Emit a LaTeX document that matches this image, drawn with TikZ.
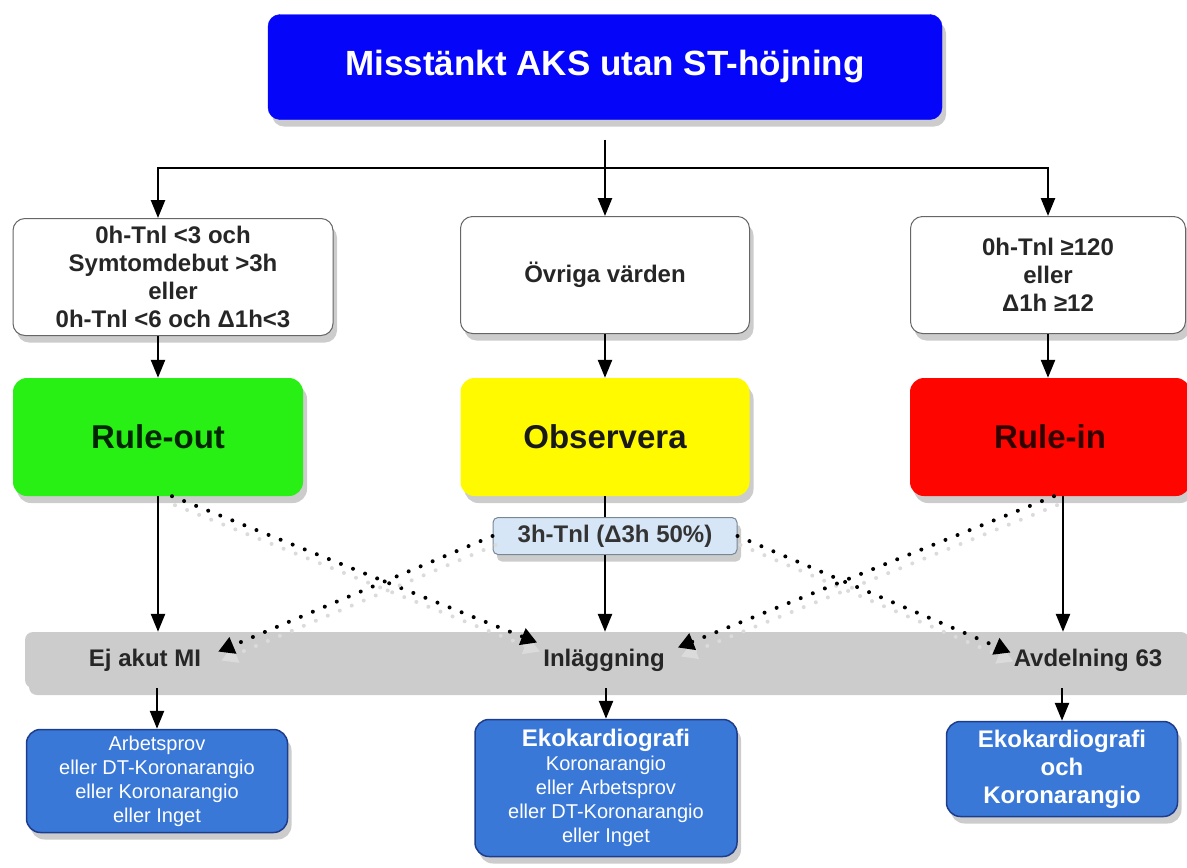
\documentclass[tikz,border=0pt]{standalone}
\usepackage{fontspec}
\setmainfont{Liberation Sans}
\usetikzlibrary{arrows.meta,shadows,calc}

\definecolor{headblue}{RGB}{5,5,250}
\definecolor{outgreen}{RGB}{40,240,20}
\definecolor{obsyellow}{RGB}{255,250,0}
\definecolor{inred}{RGB}{255,5,0}
\definecolor{bandgray}{RGB}{204,204,204}
\definecolor{workblue}{RGB}{58,120,216}
\definecolor{workedge}{RGB}{30,60,140}
\definecolor{tnlblue}{RGB}{214,230,246}
\definecolor{tnledge}{RGB}{120,135,150}

\begin{document}
\begin{tikzpicture}[x=1pt, y=-1pt,
    shade/.style={drop shadow={shadow xshift=4pt, shadow yshift=-7pt, fill=black!40}},
    head/.style={shade, draw=headblue, fill=headblue, rounded corners=12pt, minimum width=674pt, minimum height=105pt, text=white, font=\fontsize{35}{40}\selectfont\bfseries},
    cond/.style={shade, draw=black!60, line width=1pt, fill=white, rounded corners=12pt, minimum height=117pt, align=center, font=\fontsize{24}{28}\selectfont\bfseries, text=black!85},
    verdict/.style={shade, rounded corners=14pt, minimum height=118pt, font=\fontsize{33}{38}\selectfont\bfseries},
    band/.style={shade, fill=bandgray, rounded corners=8pt, minimum width=1164pt, minimum height=56pt},
    lab/.style={font=\fontsize{24}{28}\selectfont\bfseries, text=black!85, inner sep=3pt},
    tnl/.style={shade, draw=tnledge, line width=1pt, fill=tnlblue, rounded corners=5pt, minimum width=244pt, minimum height=37pt, font=\fontsize{24}{28}\selectfont\bfseries, text=black!80},
    work/.style={shade, draw=workedge, line width=1.5pt, fill=workblue, rounded corners=14pt, align=center, text=white, font=\fontsize{20}{24}\selectfont},
    arr/.style={-{Triangle[length=18pt, width=14pt]}, line width=2.5pt},
    dots/.style={preaction={draw=black!14, -{Triangle[length=16pt, width=17pt]}, line width=4pt, line cap=round, dash pattern=on 0pt off 13pt, transform canvas={shift={(3pt,-9pt)}}},
        -{Triangle[length=16pt, width=17pt]}, line width=4pt, line cap=round, dash pattern=on 0pt off 13pt},
]
    \useasboundingbox (0,0) rectangle (1187,868);

    \node[head] (title) at (605,67) {Misstänkt AKS utan ST-höjning};
    \node[cond, minimum width=320pt] (cl) at (173,277) {0h-Tnl <3 och\\Symtomdebut >3h\\eller\\0h-Tnl <6 och Δ1h<3};
    \node[cond, minimum width=289pt] (cm) at (605,275) {Övriga värden};
    \node[cond, minimum width=275pt] (cr) at (1048,275) {0h-Tnl ≥120\\eller\\Δ1h ≥12};

    \node[verdict, fill=outgreen, minimum width=290pt, text=black!85!green] (rout) at (158,437) {Rule-out};
    \node[verdict, fill=obsyellow, minimum width=289pt, text=black!90] (obs) at (605,437) {Observera};
    \node[verdict, fill=inred, minimum width=280pt, text=black!80!red] (rin) at (1050,437) {Rule-in};

    \node[tnl] (tnl) at (615,536) {3h-Tnl (Δ3h 50\%)};

    \node[band] (band) at (607,660) {};
    \node[lab] (ejmi) at (145,660) {Ej akut MI};
    \node[lab] (inl) at (604,660) {Inläggning};
    \node[lab] (avd) at (1088,660) {Avdelning 63};

    \node[work, minimum width=261pt, minimum height=103pt] (wl) at (157,781) {Arbetsprov\\eller DT-Koronarangio\\eller Koronarangio\\eller Inget};
    \node[work, minimum width=262pt, minimum height=137pt] (wm) at (606,788) {{\fontsize{24}{24}\selectfont\bfseries Ekokardiografi}\\Koronarangio\\eller Arbetsprov\\eller DT-Koronarangio\\eller Inget};
    \node[work, minimum width=231pt, minimum height=95pt, font=\fontsize{24}{28}\selectfont\bfseries] (wr) at (1062,769) {Ekokardiografi\\och\\Koronarangio};

    % split below the title
    \coordinate (split) at (605,168);
    \draw[line width=2.5pt] ([yshift=-20pt]title.south) -- (split);
    \draw[arr] (split) -| (rout |- cl.north);
    \draw[arr] (split) -- (cm.north);
    \draw[arr] (split) -| (cr.north);

    \draw[arr] (rout |- cl.south) -- (rout.north);
    \draw[arr] (cm.south) -- (obs.north);
    \draw[arr] (cr.south) -- (cr.south |- rin.north);

    \draw[arr] (rout.south) -- (rout.south |- band.north);
    \draw[line width=2.5pt] (obs.south) -- (obs.south |- tnl.north);
    \draw[arr] (obs.south |- tnl.south) -- (obs.south |- band.north);
    \draw[arr] ([xshift=13pt]rin.south) -- ([xshift=13pt]rin.south |- band.north);

    % dotted cross-overs
    \draw[dots] ([xshift=14pt]rout.south) -- ([xshift=-3pt,yshift=3pt]inl.north west);
    \draw[dots] (tnl.west) -- ([xshift=14pt,yshift=-6pt]ejmi.north east);
    \draw[dots] (tnl.east) -- ([yshift=-7pt]avd.north west);
    \draw[dots] ([xshift=4pt]rin.south) -- ([xshift=10pt,yshift=-2pt]inl.north east);

    \draw[arr] (wl.north |- band.south) -- (wl.north);
    \draw[arr] (wm.north |- band.south) -- (wm.north);
    \draw[arr] (wr.north |- band.south) -- (wr.north);
\end{tikzpicture}
\end{document}
